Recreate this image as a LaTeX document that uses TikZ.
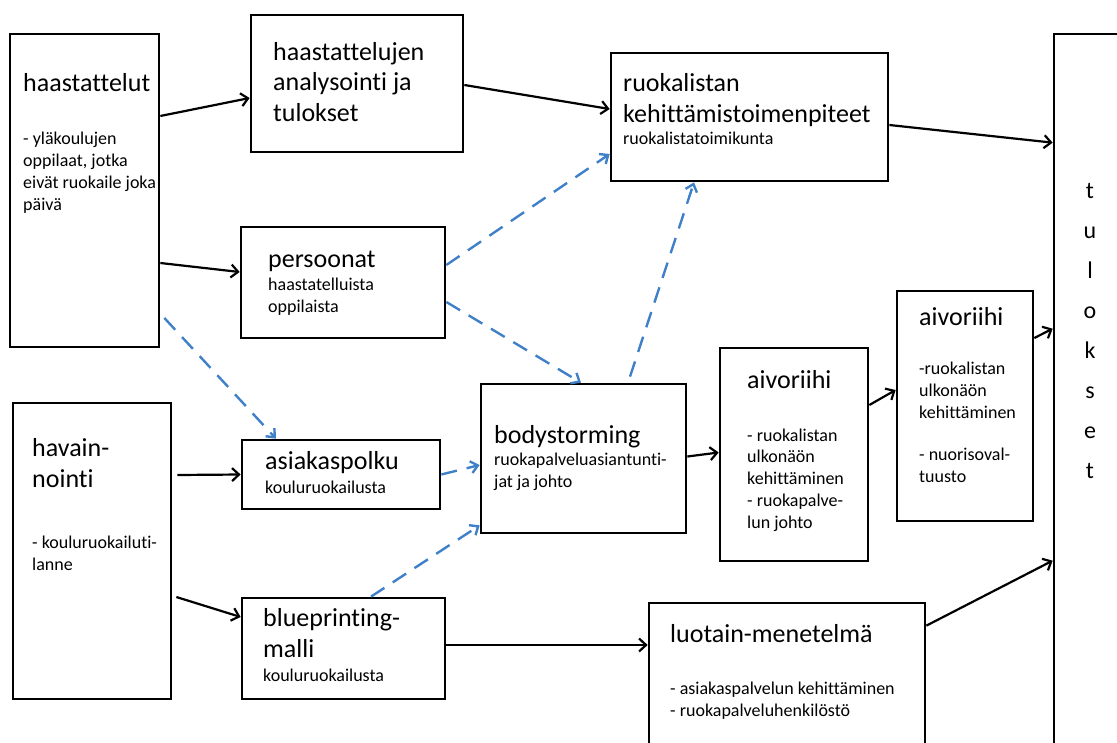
\documentclass[tikz,border=0pt]{standalone}
\usepackage{fontspec}
\setmainfont{Carlito}[Ligatures=NoCommon]
\usetikzlibrary{arrows.meta}
\definecolor{dashblue}{RGB}{63,128,200}
\begin{document}
\begin{tikzpicture}[x=1pt,y=-1pt,
  box/.style={draw=black,line width=2.7pt,rectangle,inner sep=0pt},
  big/.style={anchor=base west,inner sep=0pt,align=left,font=\fontsize{26}{30.5}\selectfont},
  small/.style={anchor=base west,inner sep=0pt,align=left,font=\fontsize{18}{21.7}\selectfont},
  arr/.style={line width=2.2pt,-{Straight Barb[length=7pt,width=13pt]}},
  darr/.style={line width=2.4pt,dashblue,dash pattern=on 16pt off 10pt,-{Straight Barb[length=7pt,width=12pt]}},
  letter/.style={anchor=base,inner sep=0pt,font=\fontsize{24}{28}\selectfont}]
\useasboundingbox (0,0) rectangle (1117,742);
\clip (0,0) rectangle (1117,742);
% boxes
\node[box,minimum width=149pt,minimum height=313pt] (hA) at (84.5,190.5) {};
\node[box,minimum width=212pt,minimum height=137pt] (hB) at (357,83.5) {};
\node[box,minimum width=277pt,minimum height=128pt] (hC) at (749.5,117) {};
\node[box,minimum width=204pt,minimum height=111pt] (hD) at (343,282.5) {};
\node[box,minimum width=158pt,minimum height=296pt] (hE) at (92,551) {};
\node[box,minimum width=198pt,minimum height=69pt] (hF) at (341,474.5) {};
\node[box,minimum width=203pt,minimum height=101pt] (hG) at (343.5,648.5) {};
\node[box,minimum width=205pt,minimum height=149pt] (hH) at (583.5,458.5) {};
\node[box,minimum width=148pt,minimum height=213pt] (hI) at (794,454.5) {};
\node[box,minimum width=136pt,minimum height=230pt] (hJ) at (965,406) {};
\node[box,minimum width=86pt,minimum height=736pt] (hK) at (1097,402) {};
\node[box,minimum width=276pt,minimum height=167pt] (hL) at (787,686.5) {};
% texts (multi-line nodes are placed by the baseline of their last line)
\node[big] (tA1) at (23,91) {haastattelut};
\node[small] (tA2) at (23,210) {- yläkoulujen\\oppilaat, jotka\\eivät ruokaile joka\\päivä};
\node[big] (tB1) at (273,121) {haastattelujen\\analysointi ja\\tulokset};
\node[big] (tC1) at (623,122) {ruokalistan\\kehittämistoimenpiteet};
\node[small] (tC2) at (623,144) {ruokalistatoimikunta};
\node[big] (tD1) at (268,267) {persoonat};
\node[small] (tD2) at (268,312) {haastatelluista\\oppilaista};
\node[big] (tE1) at (32,487) {havain-\\nointi};
\node[small] (tE2) at (32,570) {- kouluruokailuti-\\lanne};
\node[big] (tF1) at (265,469) {asiakaspolku};
\node[small] (tF2) at (265,493) {kouluruokailusta};
\node[big] (tG1) at (263,657) {blueprinting-\\malli};
\node[small] (tG2) at (263,681) {kouluruokailusta};
\node[big] (tH1) at (494,443) {bodystorming};
\node[small] (tH2) at (494,487) {ruokapalveluasiantunti-\\jat ja johto};
\node[big] (tI1) at (747,388) {aivoriihi};
\node[small] (tI2) at (747,528) {- ruokalistan\\ulkonäön\\kehittäminen\\- ruokapalve-\\lun johto};
\node[big] (tJ1) at (919,325) {aivoriihi};
\node[small] (tJ2) at (919,418) {-ruokalistan\\ulkonäön\\kehittäminen};
\node[small] (tJ3) at (919,482) {- nuorisoval-\\tuusto};
\node[big] (tL1) at (670,642) {luotain-menetelmä};
\node[small] (tL2) at (670,716) {- asiakaspalvelun kehittäminen\\- ruokapalveluhenkilöstö};
\node[letter] (k1) at (1090,198) {t};
\node[letter] (k2) at (1090,238) {u};
\node[letter] (k3) at (1090,278) {l};
\node[letter] (k4) at (1090,318) {o};
\node[letter] (k5) at (1090,358) {k};
\node[letter] (k6) at (1090,398) {s};
\node[letter] (k7) at (1090,438) {e};
\node[letter] (k8) at (1090,478) {t};
% black arrows
\draw[arr] ([yshift=74.5pt]hA.east) -- ([yshift=-14.5pt]hB.west);
\draw[arr] ([yshift=-72.5pt]hA.east) -- ([yshift=10.5pt]hD.west);
\draw[arr] ([yshift=-1.5pt]hB.east) -- ([yshift=8pt]hC.west);
\draw[arr] ([yshift=-8pt]hC.east) -- ([yshift=-110pt]hK.north west);
\draw[arr] ([xshift=5pt,yshift=76pt]hE.east) -- (hF.west);
\draw[arr] ([xshift=4pt,yshift=-46pt]hE.east) -- ([yshift=31.5pt]hG.west);
\draw[arr] ([yshift=3.5pt]hG.east) -- ([yshift=41.5pt]hL.west);
\draw[arr] ([yshift=2pt]hH.east) -- ([yshift=2pt]hI.west);
\draw[arr] ([yshift=49.5pt]hI.east) -- ([yshift=16pt]hJ.west);
\draw[arr] ([yshift=68pt]hJ.east) -- ([yshift=-296pt]hK.north west);
\draw[arr] ([yshift=-24pt]hL.north east) -- ([yshift=-528pt]hK.north west);
% blue dashed arrows
\draw[darr] ([yshift=17.5pt]hD.east) -- ([yshift=-37pt]hC.west);
\draw[darr] ([yshift=-19.5pt]hD.east) -- ([xshift=-2.5pt]hH.north);
\draw[darr] ([xshift=46.5pt,yshift=6pt]hH.north) -- ([xshift=-55.5pt]hC.south);
\draw[darr] ([xshift=4pt,yshift=-127.5pt]hA.east) -- ([xshift=-65pt]hF.north);
\draw[darr] (hF.east) -- ([yshift=-6.5pt]hH.west);
\draw[darr] ([xshift=27.5pt]hG.north) -- ([yshift=9pt]hH.south west);
\end{tikzpicture}
\end{document}
